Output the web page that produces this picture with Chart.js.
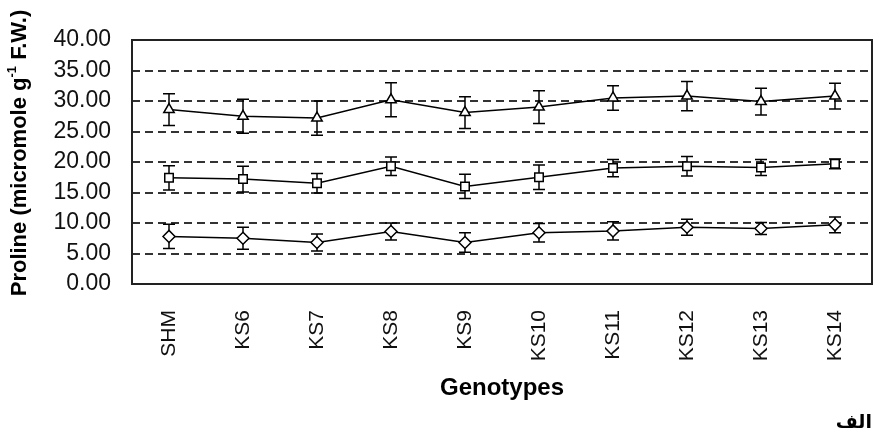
<!DOCTYPE html>
<html>
<head>
<meta charset="utf-8">
<script src="https://cdn.jsdelivr.net/npm/chart.js@4/dist/chart.umd.min.js"></script>
<style>
    body { margin: 0; background: #fff; }
    #wrap { position: relative; width: 880px; height: 435px; }
    #tag { position: absolute; right: 8px; top: 410px; font: bold 19px "DejaVu Sans"; direction: rtl; color: #000; }
</style>
</head>
<body>
<div id="wrap">
    <canvas id="chart" width="880" height="435"></canvas>
    <div id="tag">الف</div>
</div>
<script>
// Genotypes on the x axis
const genotypes = ['SHM', 'KS6', 'KS7', 'KS8', 'KS9', 'KS10', 'KS11', 'KS12', 'KS13', 'KS14'];

// Proline values (triangle / square / diamond series)
const triangleValues = [28.6, 27.5, 27.2, 30.2, 28.1, 29.0, 30.5, 30.8, 29.9, 30.8];
const triangleErrors = [2.6, 2.8, 2.8, 2.8, 2.6, 2.7, 2.0, 2.4, 2.2, 2.1];
const squareValues = [17.4, 17.2, 16.5, 19.3, 16.0, 17.5, 19.0, 19.3, 19.1, 19.7];
const squareErrors = [2.0, 2.1, 1.6, 1.5, 2.0, 2.0, 1.4, 1.6, 1.3, 0.8];
const diamondValues = [7.8, 7.5, 6.8, 8.6, 6.8, 8.4, 8.7, 9.3, 9.1, 9.7];
const diamondErrors = [2.0, 1.8, 1.4, 1.4, 1.6, 1.5, 1.5, 1.3, 1.0, 1.3];

// y axis ticks
const yMin = 0;
const yMax = 40;
const yStep = 5;

Chart.defaults.font.family = "'Liberation Sans', Arial, sans-serif";
Chart.defaults.color = '#111';

// Vertical error bars with caps, drawn under the markers
const errorBars = {
    id: 'errorBars',
    beforeDatasetsDraw(chart) {
        const ctx = chart.ctx;
        const yScale = chart.scales.y;
        ctx.save();
        ctx.strokeStyle = '#000';
        ctx.lineWidth = 1.5;
        chart.data.datasets.forEach((ds, di) => {
            const meta = chart.getDatasetMeta(di);
            meta.data.forEach((pt, i) => {
                const v = ds.data[i];
                const e = ds.errors[i];
                const top = yScale.getPixelForValue(v + e);
                const bottom = yScale.getPixelForValue(v - e);
                ctx.beginPath();
                ctx.moveTo(pt.x, top);
                ctx.lineTo(pt.x, bottom);
                ctx.moveTo(pt.x - 6, top);
                ctx.lineTo(pt.x + 6, top);
                ctx.moveTo(pt.x - 6, bottom);
                ctx.lineTo(pt.x + 6, bottom);
                ctx.stroke();
            });
        });
        ctx.restore();
    }
};

// Box round the plot area and the rotated y title with its superscript
const frameAndTitle = {
    id: 'frameAndTitle',
    afterDraw(chart) {
        const ctx = chart.ctx;
        const a = chart.chartArea;
        ctx.save();
        ctx.strokeStyle = '#222';
        ctx.lineWidth = 2;
        ctx.strokeRect(a.left, a.top, a.right - a.left, a.bottom - a.top);

        ctx.translate(20, 153);
        ctx.rotate(-Math.PI / 2);
        ctx.fillStyle = '#000';
        ctx.textBaseline = 'middle';
        const main = 'Proline (micromole g';
        const sup = '-1';
        const tail = ' F.W.)';
        ctx.font = "bold 22px 'Liberation Sans', Arial";
        const w1 = ctx.measureText(main).width;
        const w3 = ctx.measureText(tail).width;
        ctx.font = "bold 13px 'Liberation Sans', Arial";
        const w2 = ctx.measureText(sup).width;
        let x = -(w1 + w2 + w3) / 2;
        ctx.font = "bold 22px 'Liberation Sans', Arial";
        ctx.fillText(main, x, 0);
        x += w1;
        ctx.font = "bold 13px 'Liberation Sans', Arial";
        ctx.fillText(sup, x, -8);
        x += w2;
        ctx.font = "bold 22px 'Liberation Sans', Arial";
        ctx.fillText(tail, x, 0);
        ctx.restore();
    }
};

function seriesStyle(style, radius) {
    return {
        borderColor: '#000',
        borderWidth: 1.5,
        pointStyle: style,
        pointRadius: radius,
        pointBackgroundColor: '#fff',
        pointBorderColor: '#000',
        pointBorderWidth: 1.5,
        tension: 0,
        fill: false
    };
}

new Chart(document.getElementById('chart'), {
    type: 'line',
    data: {
        labels: genotypes,
        datasets: [
            Object.assign({ data: triangleValues, errors: triangleErrors }, seriesStyle('triangle', 6)),
            Object.assign({ data: squareValues, errors: squareErrors }, seriesStyle('rect', 6)),
            Object.assign({ data: diamondValues, errors: diamondErrors }, seriesStyle('rectRot', 6))
        ]
    },
    options: {
        responsive: false,
        animation: false,
        devicePixelRatio: 1,
        layout: { padding: { left: 0, top: 40, right: 8, bottom: 32 } },
        plugins: {
            legend: { display: false },
            tooltip: { enabled: false }
        },
        scales: {
            x: {
                offset: true,
                grid: { display: false },
                border: { display: false },
                ticks: {
                    autoSkip: false,
                    font: { size: 21 },
                    color: '#111',
                    minRotation: 90,
                    maxRotation: 90,
                    padding: 18
                },
                title: {
                    display: true,
                    text: 'Genotypes',
                    font: { size: 24, weight: 'bold' },
                    color: '#000',
                    padding: 0
                },
                afterFit(scale) { scale.height = 119; }
            },
            y: {
                min: yMin,
                max: yMax,
                border: { display: false, dash: [8, 5] },
                grid: {
                    drawTicks: false,
                    lineWidth: 2,
                    color: ctx => (ctx.tick.value === yMin || ctx.tick.value === yMax) ? 'rgba(0,0,0,0)' : '#333'
                },
                ticks: {
                    autoSkip: false,
                    stepSize: yStep,
                    font: { size: 23 },
                    color: '#111',
                    padding: 21,
                    callback: v => v.toFixed(2)
                },
                afterFit(scale) { scale.width = 132; }
            }
        }
    },
    plugins: [errorBars, frameAndTitle]
});
</script>
</body>
</html>
